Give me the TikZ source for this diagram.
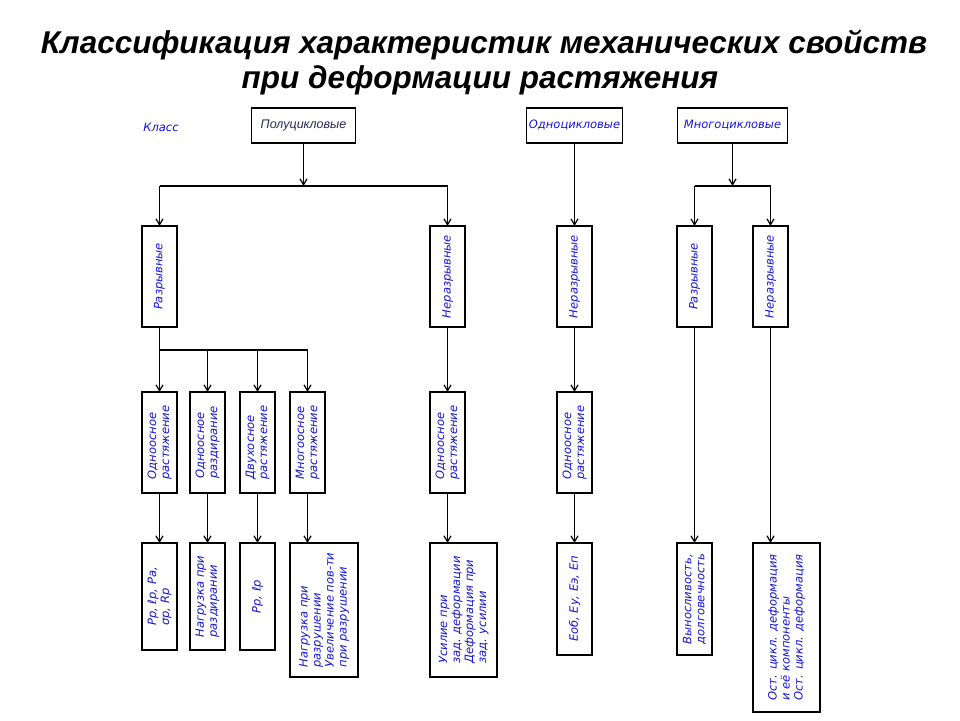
\documentclass[tikz,border=0pt]{standalone}
\usepackage{fontspec}
\setmainfont{Liberation Sans}
\newfontfamily\hand{DejaVu Sans}
\usetikzlibrary{arrows.meta}
\definecolor{hb}{RGB}{20,20,215}
\begin{document}
\begin{tikzpicture}[x=1pt,y=-1pt,
  every node/.style={inner sep=0pt, outer sep=0pt},
  tbox/.style={draw, line width=1.6pt, minimum height=35pt, fill=white},
  vbox/.style={draw, line width=1.6pt, fill=white},
  conn/.style={line width=1.6pt},
  arr/.style={line width=1.6pt, -{Straight Barb[length=6pt,width=7pt,line width=1.2pt]}},
  vt/.style={rotate=90, text=hb, font=\hand\itshape\fontsize{11.5}{13}\selectfont, align=left},
  ht/.style={text=hb, font=\hand\itshape\fontsize{11.5}{13}\selectfont}]
\useasboundingbox (0,0) rectangle (960,720);
\fill[white] (0,0) rectangle (960,720);
% title
\node[font=\fontsize{31.5}{36}\selectfont\bfseries\itshape] (t1) at (484,45) {Классификация характеристик механических свойств};
\node[font=\fontsize{31.5}{36}\selectfont\bfseries\itshape] (t2) at (480,80) {при деформации растяжения};
% top
\node[ht] (klass) at (161,127) {Класс};
\node[tbox, minimum width=104pt, font=\itshape\fontsize{12.5}{14}\selectfont, text={rgb,255:red,40;green,40;blue,90}] (polu) at (303.5,125.5) {Полуцикловые};
\node[tbox, minimum width=96pt, ht] (odno) at (574.5,125.5) {Одноцикловые};
\node[tbox, minimum width=110pt, ht] (mnogo) at (732.5,125.5) {Многоцикловые};
% level 2
\node[vbox, minimum width=35pt, minimum height=101pt] (r1) at (159.5,276.5) {};
\node[vt] (r1t) at (r1) {Разрывные};
\node[vbox, minimum width=35pt, minimum height=101pt] (n1) at (447.5,276.5) {};
\node[vt] (n1t) at (n1) {Неразрывные};
\node[vbox, minimum width=35pt, minimum height=101pt] (n2) at (574.5,276.5) {};
\node[vt] (n2t) at (n2) {Неразрывные};
\node[vbox, minimum width=35pt, minimum height=101pt] (r3) at (694.5,276.5) {};
\node[vt] (r3t) at (r3) {Разрывные};
\node[vbox, minimum width=35pt, minimum height=101pt] (n3) at (770.5,276.5) {};
\node[vt] (n3t) at (n3) {Неразрывные};
% level 3
\node[vbox, minimum width=35pt, minimum height=101pt] (a1) at (159.5,442.5) {};
\node[vt] (a1t) at (a1) {Одноосное\\растяжение};
\node[vbox, minimum width=35pt, minimum height=101pt] (a2) at (207.5,442.5) {};
\node[vt] (a2t) at (a2) {Одноосное\\раздирание};
\node[vbox, minimum width=35pt, minimum height=101pt] (a3) at (257.5,442.5) {};
\node[vt] (a3t) at (a3) {Двухосное\\растяжение};
\node[vbox, minimum width=35pt, minimum height=101pt] (a4) at (307.5,442.5) {};
\node[vt] (a4t) at (a4) {Многоосное\\растяжение};
\node[vbox, minimum width=35pt, minimum height=101pt] (a5) at (447.5,442.5) {};
\node[vt] (a5t) at (a5) {Одноосное\\растяжение};
\node[vbox, minimum width=35pt, minimum height=101pt] (a6) at (574.5,442.5) {};
\node[vt] (a6t) at (a6) {Одноосное\\растяжение};
% level 4
\node[vbox, minimum width=35pt, minimum height=107pt] (d1) at (159.5,596.5) {};
\node[vt] (d1t) at (d1) {Рр, ℓр, Ра,\\σр, Rр};
\node[vbox, minimum width=35pt, minimum height=107pt] (d2) at (207.5,596.5) {};
\node[vt] (d2t) at (d2) {Нагрузка при\\раздирании};
\node[vbox, minimum width=35pt, minimum height=107pt] (d3) at (257.5,596.5) {};
\node[vt] (d3t) at (d3) {Рр, ℓр};
\node[vbox, minimum width=68pt, minimum height=134pt] (d4) at (324,610) {};
\node[vt] (d4t) at (d4) {Нагрузка при\\разрушении\\Увеличение пов-ти\\при разрушении};
\node[vbox, minimum width=67pt, minimum height=134pt] (d5) at (463.5,610) {};
\node[vt] (d5t) at (d5) {Усилие при\\зад. деформации\\Деформация при\\зад. усилии};
\node[vbox, minimum width=35pt, minimum height=112pt] (d6) at (574.5,599) {};
\node[vt] (d6t) at (d6) {Еоб, Еу, Еэ, Еп};
\node[vbox, minimum width=35pt, minimum height=112pt] (d7) at (694.5,599) {};
\node[vt] (d7t) at (d7) {Выносливость,\\долговечность};
\node[vbox, minimum width=67pt, minimum height=169pt] (d8) at (786.5,627.5) {};
\node[vt] (d8t) at (d8) {Ост. цикл. деформация\\и её компоненты\\Ост. цикл. деформация};
% bus points
\coordinate (b1l) at (159.5,186);
\coordinate (b1r) at (447.5,186);
\coordinate (b2l) at (694.5,186);
\coordinate (b2r) at (770.5,186);
\coordinate (c1l) at (159.5,350);
\coordinate (c1r) at (307.5,350);
% connectors
\draw[arr] (polu.south) -- (polu.south |- b1l);
\draw[conn] (b1l) -- (b1r);
\draw[arr] (b1l) -- (r1.north);
\draw[arr] (b1r) -- (n1.north);
\draw[arr] (odno.south) -- (n2.north);
\draw[arr] (mnogo.south) -- (mnogo.south |- b2l);
\draw[conn] (b2l) -- (b2r);
\draw[arr] (b2l) -- (r3.north);
\draw[arr] (b2r) -- (n3.north);
\draw[conn] (r1.south) -- (c1l);
\draw[conn] (c1l) -- (c1r);
\draw[arr] (c1l) -- (a1.north);
\draw[arr] (a2.north |- c1l) -- (a2.north);
\draw[arr] (a3.north |- c1l) -- (a3.north);
\draw[arr] (c1r) -- (a4.north);
\draw[arr] (n1.south) -- (a5.north);
\draw[arr] (n2.south) -- (a6.north);
\draw[arr] (a1.south) -- (d1.north);
\draw[arr] (a2.south) -- (d2.north);
\draw[arr] (a3.south) -- (d3.north);
\draw[arr] (a4.south) -- (a4.south |- d4.north);
\draw[arr] (a5.south) -- (a5.south |- d5.north);
\draw[arr] (a6.south) -- (d6.north);
\draw[arr] (r3.south) -- (d7.north);
\draw[arr] (n3.south) -- (n3.south |- d8.north);
\end{tikzpicture}
\end{document}
